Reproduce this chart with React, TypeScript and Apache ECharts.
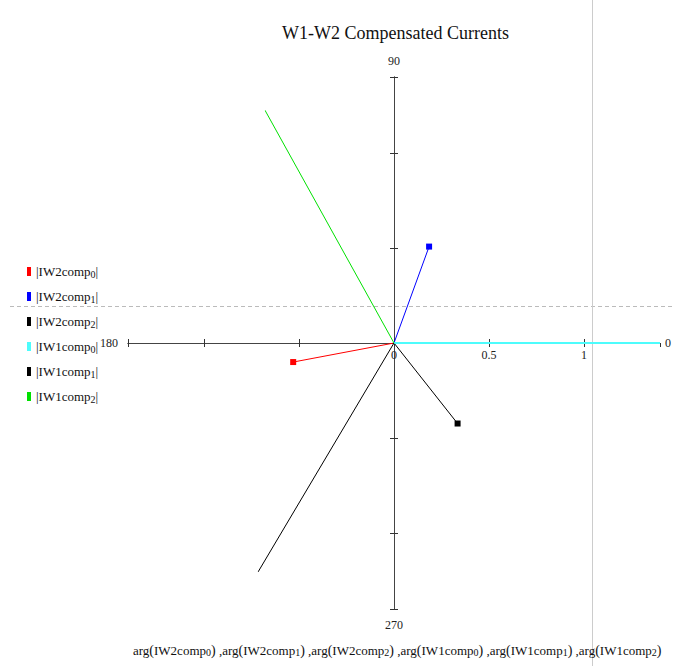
import React, { useEffect, useRef } from "react";
import * as echarts from "echarts";

const seriesNames = ["IW2comp0", "IW2comp1", "IW2comp2", "IW1comp0", "IW1comp1", "IW1comp2"];
const seriesBase = ["IW2comp", "IW2comp", "IW2comp", "IW1comp", "IW1comp", "IW1comp"];
const seriesSub = ["0", "1", "2", "0", "1", "2"];
const magnitudes = [0.54, 0.54, 0.54, 1.5, 1.5, 1.5];
const anglesDeg = [190.7, 70, 308.3, 0, 239.3, 119];
const colors = ["#ff0000", "#0000ff", "#000000", "#4dfcfc", "#000000", "#00e000"];
const lineWidths = [1, 1, 1, 2, 1, 1];
const showMarker = [true, true, true, false, false, false];
const radiusMax = 1.4;
const radiusInterval = 0.5;
const armAngles = [0, 90, 180, 270];
const zeroAngleLabel = "0";
const titleText = "W1-W2 Compensated Currents";

const serif = "Liberation Serif";

export default function App() {
  const ref = useRef<HTMLDivElement>(null);
  useEffect(() => {
    if (!ref.current) return;
    const chart = echarts.init(ref.current, undefined, { renderer: "svg" });
    const center = [394, 343];
    const radius = 266;

    const polar: any[] = [];
    const angleAxis: any[] = [];
    const radiusAxis: any[] = [];
    let idx = 0;
    armAngles.forEach((a) => {
      [false, true].forEach((inside) => {
        const main = a === 0 && !inside;
        polar.push({ center, radius });
        angleAxis.push({
          polarIndex: idx,
          type: "value",
          min: 0,
          max: 360,
          interval: 90,
          startAngle: a,
          clockwise: false,
          axisLine: { show: false },
          axisTick: { show: false },
          splitLine: { show: false },
          splitArea: { show: false },
          axisLabel: {
            show: main,
            margin: 10,
            color: "#222",
            fontFamily: serif,
            fontSize: 12,
            formatter: (v: number) => (v === 360 || v === 0 ? "" : String(v)),
          },
        });
        radiusAxis.push({
          polarIndex: idx,
          type: "value",
          min: 0,
          max: radiusMax,
          interval: radiusInterval,
          axisLine: { show: true, lineStyle: { color: "#444", width: 1 } },
          axisTick: { show: true, length: inside ? -4 : 4, lineStyle: { color: "#333" } },
          splitLine: { show: false },
          splitArea: { show: false },
          axisLabel: {
            show: main,
            showMaxLabel: false,
            margin: -18,
            color: "#222",
            fontFamily: serif,
            fontSize: 12,
            formatter: (v: number) => (Math.abs(v - radiusMax) < 1e-9 ? "" : String(v)),
          },
        });
        idx++;
      });
    });

    const series = seriesNames.map((name, i) => ({
      name,
      type: "line",
      coordinateSystem: "polar",
      polarIndex: 0,
      clip: true,
      showSymbol: true,
      symbol: "rect",
      symbolSize: 6,
      lineStyle: { color: colors[i], width: lineWidths[i] },
      itemStyle: { color: colors[i] },
      data: [
        { value: [0, anglesDeg[i]], symbol: "none" },
        { value: [magnitudes[i], anglesDeg[i]], symbol: showMarker[i] ? "rect" : "none" },
      ],
      z: 3,
    }));

    const bottomParts: string[] = [];
    seriesNames.forEach((_, i) => {
      bottomParts.push(`arg{p|(}${seriesBase[i]}{s|${seriesSub[i]}}{p|)}`);
    });
    const bottomText = bottomParts.join(" ,");

    chart.setOption({
      animation: false,
      backgroundColor: "#ffffff",
      title: {
        text: titleText,
        left: 277,
        top: 19,
        textStyle: { fontFamily: serif, fontSize: 18, fontWeight: "normal", color: "#111" },
      },
      legend: {
        data: seriesNames,
        orient: "vertical",
        left: 22,
        top: 260,
        itemGap: 11,
        itemWidth: 4,
        itemHeight: 9,
        icon: "rect",
        formatter: (name: string) => {
          const i = seriesNames.indexOf(name);
          return `|${seriesBase[i]}{s|${seriesSub[i]}}|`;
        },
        textStyle: {
          fontFamily: serif,
          fontSize: 13,
          color: "#111",
          rich: {
            s: { fontFamily: serif, fontSize: 10, color: "#111", verticalAlign: "bottom", padding: [5, 0, 0, 0] },
          },
        },
      },
      polar,
      angleAxis,
      radiusAxis,
      series,
      graphic: [
        {
          type: "line",
          shape: { x1: 10, y1: 306.5, x2: 674, y2: 306.5 },
          style: { stroke: "#bbbbbb", lineWidth: 1, lineDash: [4, 3] },
          z: 0,
        },
        {
          type: "line",
          shape: { x1: 592.5, y1: 0, x2: 592.5, y2: 666 },
          style: { stroke: "#cccccc", lineWidth: 1 },
          z: 0,
        },
        {
          type: "text",
          left: 665,
          top: 337,
          style: { text: zeroAngleLabel, fontFamily: serif, fontSize: 12, fill: "#222" },
        },
        {
          type: "text",
          left: 133,
          top: 643,
          style: {
            text: bottomText,
            fontFamily: serif,
            fontSize: 13,
            fill: "#111",
            rich: {
              p: { fontFamily: serif, fontSize: 14, fill: "#111" },
              s: { fontFamily: serif, fontSize: 10, fill: "#111", verticalAlign: "bottom", padding: [4, 0, 0, 0] },
            },
          },
        },
      ],
    });
    return () => chart.dispose();
  }, []);
  return (
    <div
      ref={ref}
      style={{ position: "fixed", left: 0, top: 0, width: 674, height: 666, background: "#fff" }}
    />
  );
}
